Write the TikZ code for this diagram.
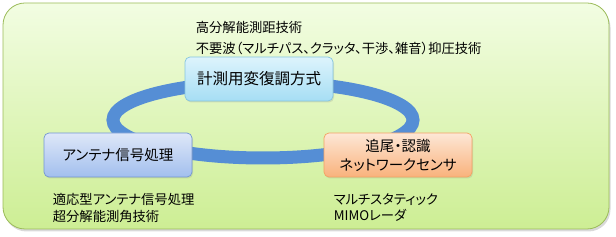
\documentclass[tikz,border=0pt]{standalone}
\usepackage{fontspec}
\setmainfont[CharacterWidth=AlternateProportional]{Noto Sans CJK JP}
\usetikzlibrary{positioning, shadows}

\definecolor{panelhi}{HTML}{F2FDE2}
\definecolor{panello}{HTML}{CDEE94}
\definecolor{panelline}{HTML}{9BBB59}
\definecolor{ringblue}{HTML}{558ED5}
\definecolor{cyanhi}{HTML}{DDF4FC}
\definecolor{cyanlo}{HTML}{A6DEF4}
\definecolor{cyanline}{HTML}{86C5DE}
\definecolor{bluehi}{HTML}{DEE7F8}
\definecolor{bluelo}{HTML}{A2BFEE}
\definecolor{blueline}{HTML}{7397D2}
\definecolor{orangehi}{HTML}{FDE7D6}
\definecolor{orangelo}{HTML}{F9B27C}
\definecolor{orangeline}{HTML}{F4A262}

\begin{document}
\begin{tikzpicture}[x=1pt, y=-1pt,
    panel/.style={draw=panelline, line width=0.8pt, rounded corners=22pt,
      top color=panelhi, bottom color=panello,
      drop shadow={opacity=0.3, shadow xshift=1.5pt, shadow yshift=-2.5pt}},
    ring/.style={draw=ringblue, line width=13pt},
    box/.style={draw, line width=0.7pt, rounded corners=5pt, minimum width=148pt,
      minimum height=44pt, align=center, font=\fontsize{14.5}{19}\selectfont,
      drop shadow={opacity=0.2, shadow xshift=1pt, shadow yshift=-1.5pt}},
    note/.style={align=left, inner sep=0pt, font=\fontsize{13.3}{16.5}\selectfont}]
  \useasboundingbox (0,0) rectangle (616,237);
  % background panel and loop
  \draw[panel] (3,3) rectangle (609,229);
  \draw[ring] (263,120) ellipse [x radius=150pt, y radius=38pt];

  % the three fields
  \node[box, draw=cyanline, top color=cyanhi, bottom color=cyanlo,
    font=\fontsize{15.5}{19}\selectfont] (modem) at (259,79) {計測用変復調方式};
  \node[box, draw=blueline, top color=bluehi, bottom color=bluelo]
    (antenna) at (118,155) {アンテナ信号処理};
  \node[box, draw=orangeline, top color=orangehi, bottom color=orangelo]
    (tracking) at (398,155) {追尾・認識\\ネットワークセンサ};

  % key techniques
  \node[note, above right=2pt and 11pt of modem.north west]
    (modemnote) {高分解能測距技術\\[4pt]不要波（マルチパス、クラッタ、干渉、雑音）抑圧技術};
  \node[note, below right=16pt and 9pt of antenna.south west]
    (antennanote) {適応型アンテナ信号処理\\超分解能測角技術};
  \node[note, below right=16pt and 10pt of tracking.south west]
    (trackingnote) {マルチスタティック\\MIMOレーダ};
\end{tikzpicture}
\end{document}
